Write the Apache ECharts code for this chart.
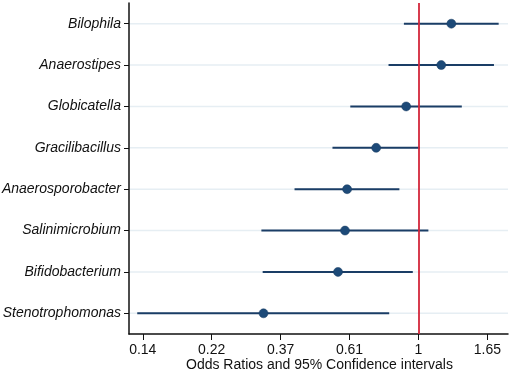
<!DOCTYPE html>
<html>
<head>
<meta charset="utf-8">
<script src="https://cdn.jsdelivr.net/npm/echarts@6/dist/echarts.min.js"></script>
<style>
html,body{margin:0;padding:0;background:#fff;}
#c{width:510px;height:372px;}
</style>
</head>
<body>
<div id="c"></div>
<script>
var categories = ['Bilophila','Anaerostipes','Globicatella','Gracilibacillus','Anaerosporobacter','Salinimicrobium','Bifidobacterium','Stenotrophomonas'];
var oddsRatio = [1.27, 1.18, 0.915, 0.736, 0.596, 0.587, 0.558, 0.325];
var ciLower   = [0.90, 0.805, 0.61, 0.536, 0.407, 0.320, 0.323, 0.130];
var ciUpper   = [1.79, 1.73, 1.37, 1.01, 0.871, 1.075, 0.96, 0.809];
var tickLogValues = [-2, -1.5, -1, -0.5, 0, 0.5];
var tickLabels = ['0.14','0.22','0.37','0.61','1','1.65'];
var xAxisTitle = 'Odds Ratios and 95% Confidence intervals';

var ln = Math.log;
var ciData = categories.map(function(c,i){ return [ln(ciLower[i]), ln(ciUpper[i]), i]; });
var ptData = categories.map(function(c,i){ return [ln(oddsRatio[i]), i]; });
var labelMap = {};
tickLogValues.forEach(function(v,i){ labelMap[v.toFixed(2)] = tickLabels[i]; });
var FONT = 'Liberation Sans, Arial, sans-serif';

var chart = echarts.init(document.getElementById('c'), null, {renderer:'canvas'});
chart.setOption({
  animation:false,
  grid:{left:129, right:2, top:3, bottom:38, containLabel:false, outerBoundsMode:'none'},
  graphic:[{
    type:'text', left:186, top:358,
    style:{text:xAxisTitle, fill:'#111', font:'14px ' + FONT}
  }],
  xAxis:{
    type:'value', min:-2.1, max:0.65,
    axisLine:{show:true, onZero:false, lineStyle:{color:'#111', width:1.5}},
    axisTick:{show:true, length:6, customValues:tickLogValues, lineStyle:{color:'#111', width:1}},
    axisLabel:{customValues:tickLogValues, color:'#111', fontSize:14, fontFamily:FONT, margin:9,
      formatter:function(v){ return labelMap[(+v).toFixed(2)] || ''; }},
    splitLine:{show:false}
  },
  yAxis:{
    type:'category', data:categories, inverse:true,
    axisLine:{show:true, onZero:false, lineStyle:{color:'#111', width:1.5}},
    axisTick:{show:true, alignWithLabel:true, length:5, lineStyle:{color:'#111'}},
    axisLabel:{color:'#111', fontSize:14, fontStyle:'italic', fontFamily:FONT, margin:8},
    splitLine:{show:false}
  },
  series:[
    {
      type:'custom',
      renderItem:function(params, api){
        var y = api.value(2);
        var s = api.coord([-2.1, y]);
        var e = api.coord([0.65, y]);
        return {type:'line', shape:{x1:s[0]+1, y1:s[1], x2:e[0], y2:e[1]}, style:{stroke:'#e6eef3', lineWidth:1.5}, silent:true};
      },
      data:ciData, z:1
    },
    {
      type:'custom',
      renderItem:function(params, api){
        var y = api.value(2);
        var s = api.coord([api.value(0), y]);
        var e = api.coord([api.value(1), y]);
        return {type:'line', shape:{x1:s[0], y1:s[1], x2:e[0], y2:e[1]}, style:{stroke:'#1a3d66', lineWidth:2}};
      },
      encode:{x:[0,1], y:2},
      data:ciData, z:3
    },
    {
      type:'scatter', data:ptData, symbolSize:9,
      itemStyle:{color:'#1d4a78', opacity:1, borderColor:'#163a60', borderWidth:0.5}, z:5,
      markLine:{
        silent:true, symbol:['none','none'], label:{show:false},
        lineStyle:{color:'#d3263a', width:1.8, type:'solid'},
        data:[{xAxis:0}]
      }
    }
  ]
});
</script>
</body>
</html>
